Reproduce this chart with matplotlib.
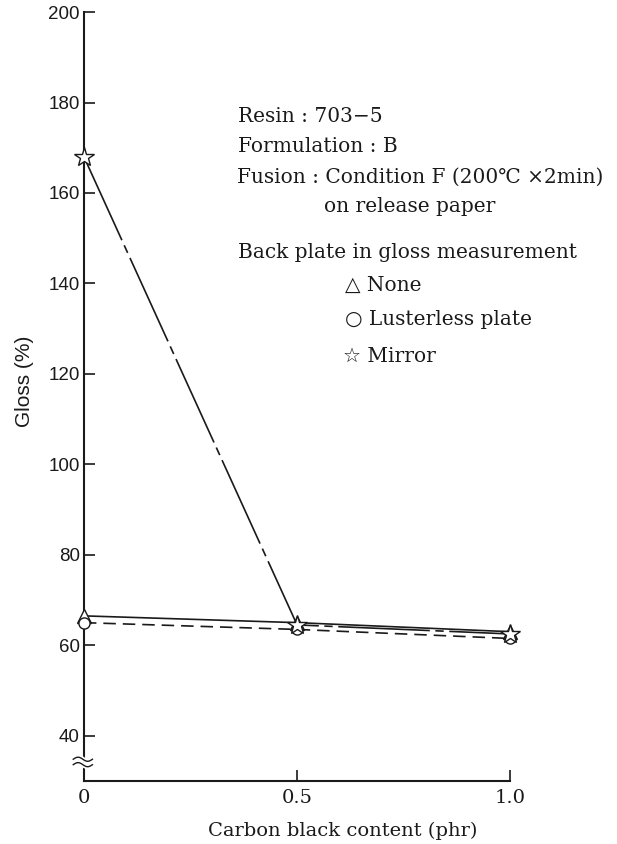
import numpy as np
import matplotlib
matplotlib.use("Agg")
import matplotlib.pyplot as plt

plt.rcParams["lines.scale_dashes"] = False

# Carbon black content (phr)
carbon_black = [0.0, 0.5, 1.0]

# Gloss (%) for each back plate used in the measurement
gloss_none = [66.5, 65.0, 63.0]
gloss_lusterless = [65.0, 63.5, 61.5]
gloss_mirror = [168.0, 64.5, 62.5]

y_ticks = [40, 60, 80, 100, 120, 140, 160, 180, 200]
x_ticks = [0.0, 0.5, 1.0]
x_tick_labels = ["0", "0.5", "1.0"]

serif = ["DejaVu Serif", "DejaVu Sans", "Noto Sans CJK JP"]
sans = ["Liberation Sans", "DejaVu Sans"]

W, H = 617, 844
fig = plt.figure(figsize=(W / 100, H / 100), dpi=100)
ax = fig.add_axes([0.136, 0.0747, 0.691, 0.911])

ink = "#1a1a1a"

ax.plot(carbon_black, gloss_none, color=ink, lw=1.2, ls="-",
        marker="^", ms=10, mfc="white", mec=ink, mew=1.0, clip_on=False, zorder=3)
ax.plot(carbon_black, gloss_lusterless, color=ink, lw=1.2, dashes=(9, 5),
        marker="o", ms=8, mfc="white", mec=ink, mew=1.0, clip_on=False, zorder=3)
ax.plot(carbon_black, gloss_mirror, color=ink, lw=1.2, dashes=(66, 4, 6, 4),
        marker="*", ms=15, mfc="white", mec=ink, mew=1.0, clip_on=False, zorder=4)

ax.set_xlim(0, 1.0)
ax.set_ylim(30, 200)

for side in ("top", "right"):
    ax.spines[side].set_visible(False)
for side in ("left", "bottom"):
    ax.spines[side].set_linewidth(1.5)
    ax.spines[side].set_color(ink)

ax.set_yticks(y_ticks)
ax.set_yticklabels([str(v) for v in y_ticks], fontfamily=sans, fontsize=13.5)
ax.set_xticks(x_ticks)
ax.set_xticklabels(x_tick_labels, fontfamily=serif, fontsize=14)
ax.tick_params(axis="y", direction="in", length=8, width=1.2, pad=3, colors=ink)
ax.tick_params(axis="x", direction="in", length=8, width=1.2, pad=6, colors=ink)

# axis break mark on the y axis
bt = ax.get_yaxis_transform()
xs = np.linspace(-0.025, 0.02, 40)
for yc in (34.8, 33.6):
    ys = yc + 0.45 * np.sin((xs + 0.025) / 0.045 * 2 * np.pi)
    ax.plot(xs, ys, transform=bt, color="white", lw=3.5, clip_on=False, zorder=5)
    ax.plot(xs, ys, transform=bt, color=ink, lw=1.0, clip_on=False, zorder=6)


def put(x, y, s, size=14.5, family=serif, **kw):
    fig.text(x / W, 1 - y / H, s, fontfamily=family, fontsize=size,
             va="center", color=ink, **kw)


# axis titles
put(25, 381, "Gloss (%)", size=15, family=sans, ha="center", rotation=90)
put(343, 831, "Carbon black content (phr)", size=14, ha="center")

# annotation block
put(238, 117, "Resin : 703\u22125")
put(238, 147, "Formulation : B")
put(237, 177, "Fusion : Condition F (200\u2103 \u00d72min)")
put(324, 207, "on release paper")
put(238, 253, "Back plate in gloss measurement")
put(345, 285, "\u25b3 None")
put(345, 320, "\u25cb Lusterless plate")
put(343, 356, "\u2606 Mirror")

fig.savefig("out.png", dpi=100, facecolor="white")
